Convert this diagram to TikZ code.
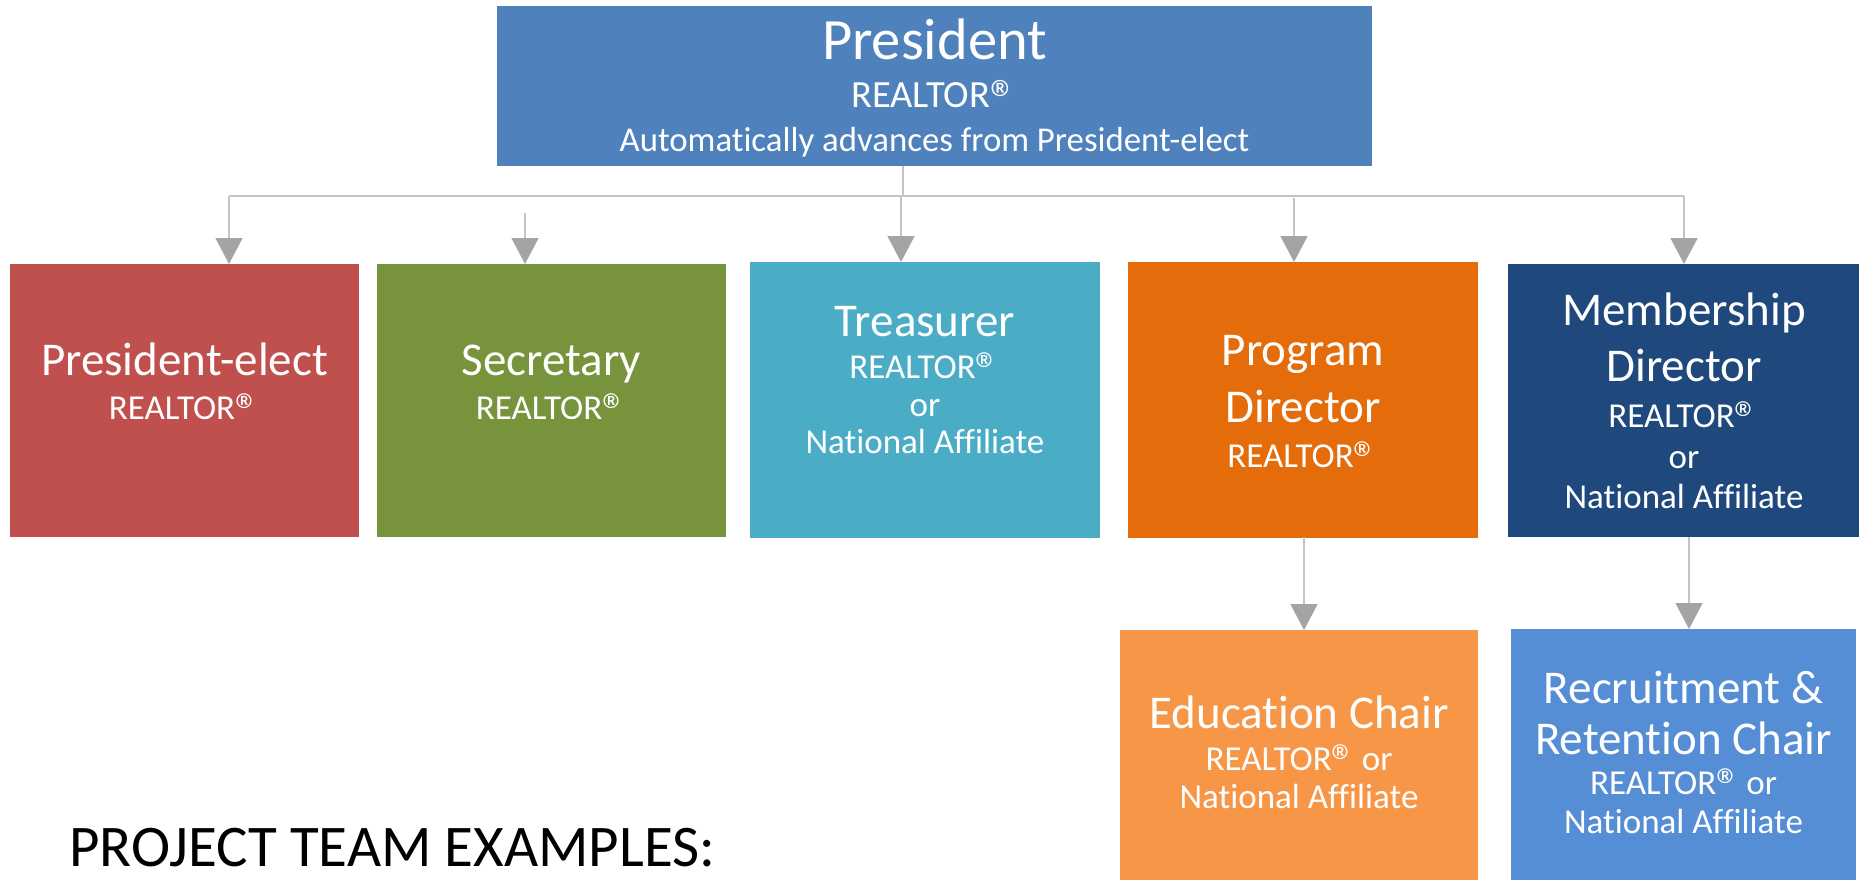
\documentclass[tikz,border=0pt]{standalone}
\usepackage{fontspec}
\setmainfont[Ligatures=NoCommon]{Carlito}
\usetikzlibrary{arrows.meta}
\newcommand{\regsym}{\raisebox{-0.25em}[0.66em][0pt]{\scalebox{1.4}{®}}}
\definecolor{cPres}{HTML}{4F81BD}
\definecolor{cRed}{HTML}{C0504D}
\definecolor{cGreen}{HTML}{77933C}
\definecolor{cCyan}{HTML}{4BACC6}
\definecolor{cOrange}{HTML}{E46C0A}
\definecolor{cNavy}{HTML}{1F497D}
\definecolor{cEdu}{HTML}{F79646}
\definecolor{cRecr}{HTML}{558ED5}
\definecolor{lineg}{HTML}{C4C4C4}
\definecolor{headg}{HTML}{A4A4A4}
\tikzset{
  box/.style={rectangle, inner sep=0pt, outer sep=0pt, draw=none, anchor=north west},
  big/.style={anchor=base, text=white, font=\fontsize{47}{55}\selectfont, inner sep=0pt},
  small/.style={anchor=base, text=white, font=\fontsize{35}{41}\selectfont, inner sep=0pt},
  conn/.style={draw=lineg, line width=1.5pt},
  arr/.style={conn, -{Triangle[width=27pt,length=26pt,fill=headg,color=headg]}},
}
\begin{document}
\begin{tikzpicture}[x=1pt,y=-1pt]
\useasboundingbox (0,0) rectangle (1859,880);
% boxes
\node[box, fill=cPres, minimum width=875pt, minimum height=160pt] (pres) at (497,6) {};
\node[box, fill=cRed, minimum width=349pt, minimum height=273pt] (red) at (10,264) {};
\node[box, fill=cGreen, minimum width=349pt, minimum height=273pt] (green) at (377,264) {};
\node[box, fill=cCyan, minimum width=350pt, minimum height=276pt] (cyan) at (750,262) {};
\node[box, fill=cOrange, minimum width=350pt, minimum height=276pt] (orange) at (1128,262) {};
\node[box, fill=cNavy, minimum width=351pt, minimum height=273pt] (navy) at (1508,264) {};
\node[box, fill=cEdu, minimum width=358pt, minimum height=250pt] (edu) at (1120,630) {};
\node[box, fill=cRecr, minimum width=345pt, minimum height=251pt] (recr) at (1511,629) {};
% connectors
\coordinate (bus) at (903,196);
\coordinate (jr) at (229,196);
\coordinate (jg) at (525,213);
\coordinate (jc) at (901,196);
\coordinate (jo) at (1294,198);
\coordinate (jn) at (1684,196);
\coordinate (je) at (1304,537);
\coordinate (jrc) at (1689,537);
\draw[conn] (pres.south -| bus) -- (bus);
\draw[conn] (jr) -- (jn);
\draw[arr] (jr) -- (jr |- red.north);
\draw[arr] (jg) -- (jg |- green.north);
\draw[arr] (jc) -- (jc |- cyan.north);
\draw[arr] (jo) -- (jo |- orange.north);
\draw[arr] (jn) -- (jn |- navy.north);
\draw[arr] (je) -- (je |- edu.north);
\draw[arr] (jrc) -- (jrc |- recr.north);
% texts
\node[anchor=base, text=white, inner sep=0pt, font=\fontsize{58.5}{60}\selectfont] (p1) at (934.5,60) {President};
\node[anchor=base, text=white, inner sep=0pt, font=\fontsize{38.5}{44}\selectfont] (p2) at (934.5,108) {REALTOR\regsym};
\node[anchor=base, text=white, inner sep=0pt, font=\fontsize{34.8}{41}\selectfont] (p3) at (934.5,151) {Automatically advances from President-elect};
\node[big] (r1) at (184.5,375) {President-elect};
\node[small] (r2) at (184.5,419) {REALTOR\regsym};
\node[big] (g1) at (551.5,375) {Secretary};
\node[small] (g2) at (551.5,419) {REALTOR\regsym};
\node[big] (c1) at (925,336) {Treasurer};
\node[small] (c2) at (925,378) {REALTOR\regsym};
\node[small] (c3) at (925,416) {or};
\node[small] (c4) at (925,453) {National Affiliate};
\node[big] (o1) at (1303,365) {Program};
\node[big] (o2) at (1303,422) {Director};
\node[small] (o3) at (1303,467) {REALTOR\regsym};
\node[big] (n1) at (1684,325) {Membership};
\node[big] (n2) at (1684,381) {Director};
\node[small] (n3) at (1684,427) {REALTOR\regsym};
\node[small] (n4) at (1684,468) {or};
\node[small] (n5) at (1684,508) {National Affiliate};
\node[big] (e1) at (1299,728) {Education Chair};
\node[small] (e2) at (1299,770) {REALTOR\regsym\kern-0.08em\ or};
\node[small] (e3) at (1299,808) {National Affiliate};
\node[big] (k1) at (1683.5,703) {Recruitment \&};
\node[big] (k2) at (1683.5,754) {Retention Chair};
\node[small] (k3) at (1683.5,794) {REALTOR\regsym\kern-0.08em\ or};
\node[small] (k4) at (1683.5,833) {National Affiliate};
\node[anchor=base west, inner sep=0pt, text=black, font=\fontsize{59}{64}\selectfont] (pt) at (69,866) {PROJECT TEAM EXAMPLES:};
\end{tikzpicture}
\end{document}
